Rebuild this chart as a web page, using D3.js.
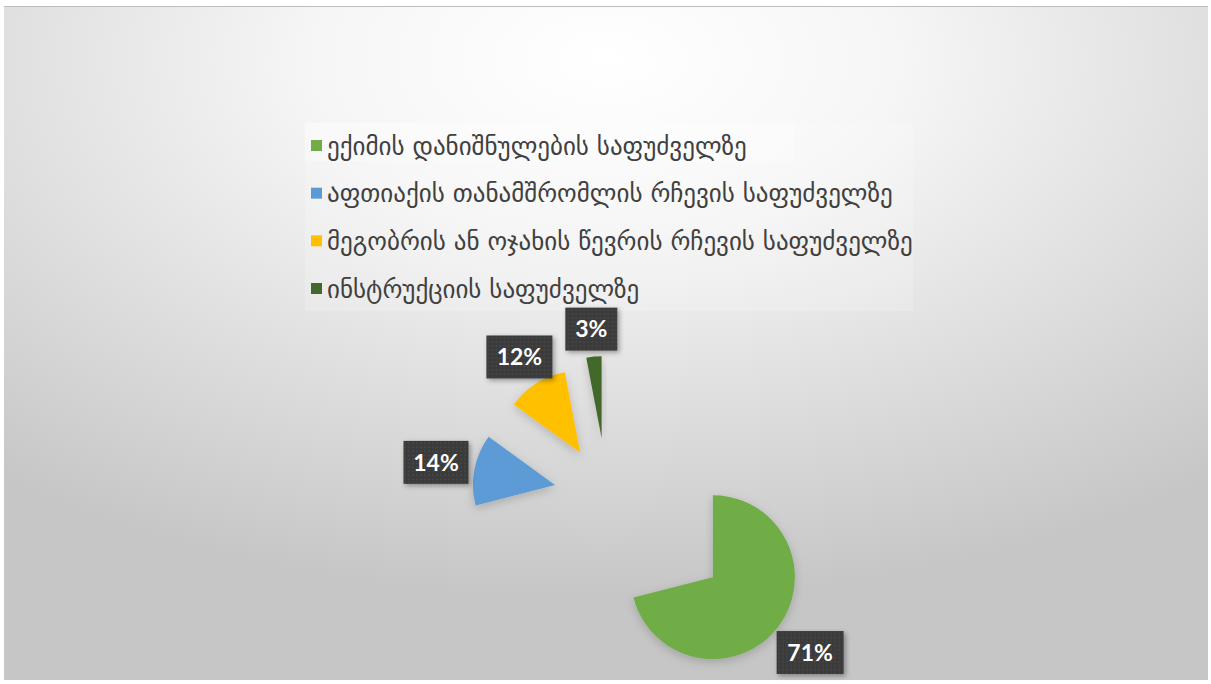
<!DOCTYPE html>
<html>
<head>
<meta charset="utf-8">
<script src="https://cdn.jsdelivr.net/npm/d3@7"></script>
<style>
  body { margin: 0; background: #ffffff; }
  svg { display: block; }
</style>
</head>
<body>
<div class="container"></div>
<script>
var WIDTH = 1211, HEIGHT = 684;

// data
var categories = [
    "ექიმის დანიშნულების საფუძველზე",
    "აფთიაქის თანამშრომლის რჩევის საფუძველზე",
    "მეგობრის ან ოჯახის წევრის რჩევის საფუძველზე",
    "ინსტრუქციის საფუძველზე"
];
var values = [71, 14, 12, 3];
var labels = ["71%", "14%", "12%", "3%"];
var colors = ["#70ad47", "#5b9bd5", "#ffc000", "#43682b"];
// how far each slice is pulled out of the pie
var explode = [134, 53, 50, 57];

var svg = d3.select('.container').append('svg')
            .attr('width', WIDTH)
            .attr('height', HEIGHT);

var defs = svg.append('defs');

var bg = defs.append('radialGradient')
             .attr('id', 'bg')
             .attr('cx', '50%').attr('cy', '8%')
             .attr('r', '80%')
             .attr('gradientUnits', 'objectBoundingBox');
bg.append('stop').attr('offset', '0%').attr('stop-color', '#ffffff');
bg.append('stop').attr('offset', '30%').attr('stop-color', '#f6f6f6');
bg.append('stop').attr('offset', '100%').attr('stop-color', '#c6c6c6');

var dots = defs.append('pattern')
               .attr('id', 'dots')
               .attr('width', 4).attr('height', 4)
               .attr('patternUnits', 'userSpaceOnUse');
dots.append('rect').attr('width', 4).attr('height', 4).attr('fill', '#3a3a3a');
dots.append('circle').attr('cx', 1).attr('cy', 1).attr('r', 0.7).attr('fill', '#555555');

var shadow = defs.append('filter').attr('id', 'shadow')
                 .attr('x', '-30%').attr('y', '-30%').attr('width', '160%').attr('height', '160%');
shadow.append('feDropShadow')
      .attr('dx', 2).attr('dy', 2).attr('stdDeviation', 2.5)
      .attr('flood-color', '#000').attr('flood-opacity', 0.35);

var pieShadow = defs.append('filter').attr('id', 'pieShadow')
                 .attr('x', '-30%').attr('y', '-30%').attr('width', '160%').attr('height', '160%');
pieShadow.append('feDropShadow')
      .attr('dx', 0).attr('dy', 3).attr('stdDeviation', 5)
      .attr('flood-color', '#000').attr('flood-opacity', 0.18);

svg.append('rect')
   .attr('x', 4).attr('y', 6)
   .attr('width', 1204).attr('height', 674)
   .attr('fill', 'url(#bg)');
svg.append('line')
   .attr('x1', 4).attr('x2', 1208).attr('y1', 6.5).attr('y2', 6.5)
   .attr('stroke', '#bdbdbd').attr('stroke-width', 1);

// legend
var legend = svg.append('g').attr('transform', 'translate(305,123)');
legend.append('rect')
      .attr('width', 608).attr('height', 188)
      .attr('fill', '#ffffff').attr('opacity', 0.18);
legend.append('rect')
      .attr('width', 490).attr('height', 38)
      .attr('fill', '#ffffff').attr('opacity', 0.3);

var rowY = d3.scalePoint()
             .domain(categories)
             .range([23, 166]);

var item = legend.selectAll('g.item').data(categories)
                 .enter()
                 .append('g')
                 .classed('item', true)
                 .attr('transform', function(d){ return 'translate(0,' + rowY(d) + ')'; });

item.append('rect')
    .attr('x', 6).attr('y', -6)
    .attr('width', 11).attr('height', 11)
    .attr('fill', function(d, i){ return colors[i]; });

item.append('text')
    .attr('x', 22).attr('y', 0)
    .attr('dy', '0.35em')
    .attr('fill', '#404040')
    .style('font-family', '"DejaVu Sans", sans-serif')
    .style('font-size', '25px')
    .text(function(d){ return d; });

// pie
var R = 82;
var cx = 607, cy = 495;

var pie = d3.pie().sort(null).value(function(d){ return d; });
var arc = d3.arc().innerRadius(0).outerRadius(R);
var arcs = pie(values);

var g = svg.append('g')
           .attr('transform', 'translate(' + cx + ',' + cy + ')');

function dir(d) {
    var a = (d.startAngle + d.endAngle) / 2;
    return [Math.sin(a), -Math.cos(a)];
}

g.selectAll('path.slice').data(arcs)
  .enter()
  .append('path')
  .classed('slice', true)
  .attr('d', arc)
  .attr('fill', function(d, i){ return colors[i]; })
  .attr('filter', 'url(#pieShadow)')
  .attr('transform', function(d, i){
      var u = dir(d);
      return 'translate(' + (u[0] * explode[i]) + ',' + (u[1] * explode[i]) + ')';
  });

// data labels, outside end
var boxW = [67, 65, 66, 52], boxH = 43, gap = 6;
var lab = g.selectAll('g.label').data(arcs)
  .enter()
  .append('g')
  .classed('label', true)
  .attr('transform', function(d, i){
      var u = dir(d);
      var hw = boxW[i] / 2, hh = boxH / 2;
      var t = Math.min(Math.abs(u[0]) > 1e-6 ? hw / Math.abs(u[0]) : 1e9,
                       Math.abs(u[1]) > 1e-6 ? hh / Math.abs(u[1]) : 1e9);
      var dist = explode[i] + R + gap + t;
      return 'translate(' + (u[0] * dist) + ',' + (u[1] * dist) + ')';
  });

lab.append('rect')
   .attr('x', function(d, i){ return -boxW[i] / 2; })
   .attr('y', -boxH / 2)
   .attr('width', function(d, i){ return boxW[i]; })
   .attr('height', boxH)
   .attr('fill', 'url(#dots)')
   .attr('filter', 'url(#shadow)');

lab.append('text')
   .attr('text-anchor', 'middle')
   .attr('dy', '0.36em')
   .attr('fill', '#ffffff')
   .style('font-family', 'Lato, "Open Sans", sans-serif')
   .style('font-weight', 'bold')
   .style('font-size', '23px')
   .text(function(d, i){ return labels[i]; });
</script>
</body>
</html>
